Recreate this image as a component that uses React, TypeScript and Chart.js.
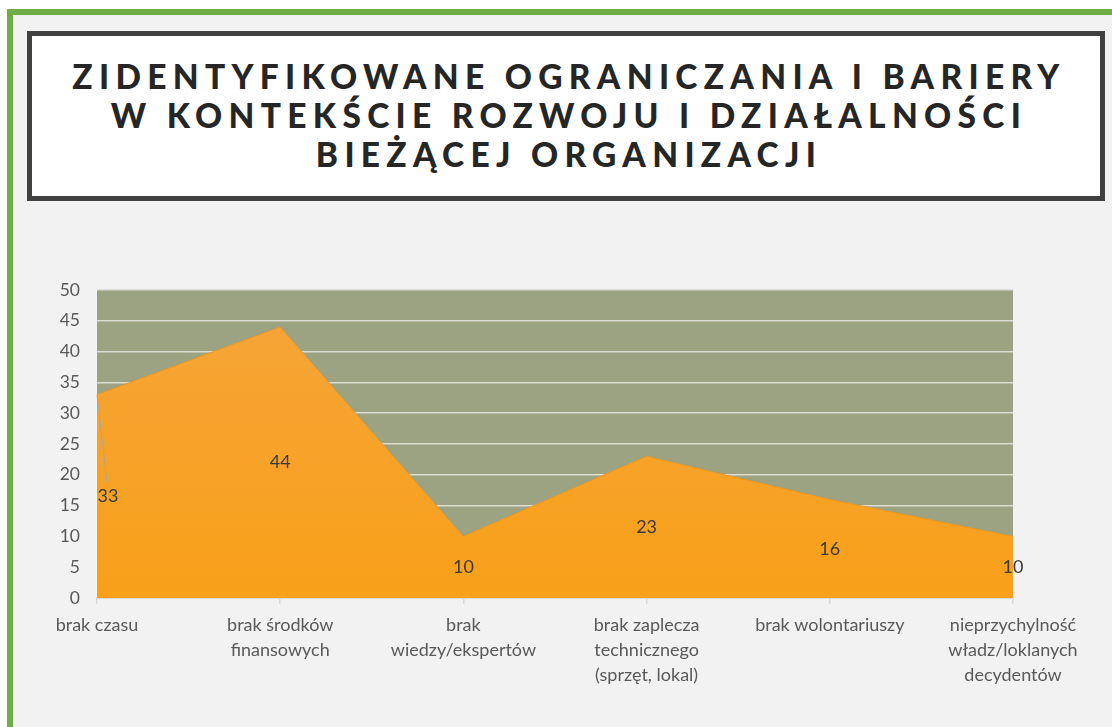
import React, { useEffect, useRef } from "react";
import { Chart, registerables } from "chart.js";

Chart.register(...registerables);

const categories: string[][] = [
  ["brak czasu"],
  ["brak środków", "finansowych"],
  ["brak", "wiedzy/ekspertów"],
  ["brak zaplecza", "technicznego", "(sprzęt, lokal)"],
  ["brak wolontariuszy"],
  ["nieprzychylność", "władz/loklanych", "decydentów"],
];
const values: number[] = [33, 44, 10, 23, 16, 10];
const titleLines: string[] = [
  "ZIDENTYFIKOWANE OGRANICZANIA I BARIERY",
  "W KONTEKŚCIE ROZWOJU I DZIAŁALNOŚCI",
  "BIEŻĄCEJ ORGANIZACJI",
];
const yMin = 0;
const yMax = 50;
const yStep = 5;

const FONT = "Lato, 'Open Sans', sans-serif";

const bgPlugin = {
  id: "plotBg",
  beforeDraw(chart: any) {
    const { ctx, chartArea } = chart;
    if (!chartArea) return;
    ctx.save();
    ctx.fillStyle = "#9ba383";
    ctx.fillRect(chartArea.left, chartArea.top, chartArea.right - chartArea.left, chartArea.bottom - chartArea.top);
    ctx.restore();
  },
};

const labelPlugin = {
  id: "centerLabels",
  afterDatasetsDraw(chart: any) {
    const { ctx } = chart;
    const meta = chart.getDatasetMeta(0);
    const yScale = chart.scales.y;
    const data = chart.data.datasets[0].data as number[];
    ctx.save();
    ctx.font = `18px ${FONT}`;
    ctx.fillStyle = "#3a3a3a";
    ctx.textAlign = "center";
    ctx.textBaseline = "middle";
    meta.data.forEach((pt: any, i: number) => {
      const v = data[i];
      let lx = pt.x;
      const ly = yScale.getPixelForValue(v / 2);
      if (i === 0) {
        lx = pt.x + 11;
        ctx.strokeStyle = "#a6a6a6";
        ctx.lineWidth = 1;
        ctx.beginPath();
        ctx.moveTo(pt.x, pt.y);
        ctx.lineTo(lx - 1, ly - 14);
        ctx.stroke();
      }
      ctx.fillText(String(v), lx, ly);
    });
    ctx.restore();
  },
};

function ChartCanvas() {
  const ref = useRef<HTMLCanvasElement | null>(null);
  useEffect(() => {
    if (!ref.current) return;
    const ctx = ref.current.getContext("2d")!;
    const grad = ctx.createLinearGradient(0, 290, 0, 598);
    grad.addColorStop(0, "#f5a53a");
    grad.addColorStop(1, "#f9a019");
    const chart = new Chart(ref.current, {
      type: "line",
      data: {
        labels: categories,
        datasets: [
          {
            data: values,
            fill: "origin",
            backgroundColor: grad,
            borderColor: "rgba(240,150,30,0.9)",
            borderWidth: 1,
            pointRadius: 0,
            tension: 0,
          },
        ],
      },
      options: {
        animation: false,
        responsive: false,
        maintainAspectRatio: false,
        layout: { padding: { left: 0, right: 99, top: 290, bottom: 0 } },
        plugins: { legend: { display: false }, tooltip: { enabled: false } },
        scales: {
          x: {
            offset: false,
            grid: { drawOnChartArea: false, color: "#d9d9d9", tickLength: 6, lineWidth: 1.5 },
            border: { color: "#d9d9d9", width: 2 },
            ticks: {
              color: "#595959",
              font: { family: FONT, size: 18, lineHeight: 1.38 },
              padding: 9,
              maxRotation: 0,
              autoSkip: false,
            },
            afterFit(scale: any) {
              scale.height = 129;
            },
          },
          y: {
            min: yMin,
            max: yMax,
            ticks: {
              stepSize: yStep,
              color: "#595959",
              font: { family: FONT, size: 17.5 },
              padding: 17,
            },
            grid: { color: "#dcdcd2", lineWidth: 1.5, drawTicks: false },
            border: { display: false },
            afterFit(scale: any) {
              scale.width = 97;
            },
          },
        },
      },
      plugins: [bgPlugin, labelPlugin],
    } as any);
    return () => chart.destroy();
  }, []);
  return (
    <canvas
      ref={ref}
      width={1112}
      height={727}
      style={{ position: "absolute", left: 0, top: 0, width: 1112, height: 727 }}
    />
  );
}

export default function App() {
  return (
    <div
      style={{
        position: "fixed",
        left: 0,
        top: 0,
        width: 1112,
        height: 727,
        background: "#ffffff",
        overflow: "hidden",
      }}
    >
      <div
        style={{
          position: "absolute",
          left: 7,
          top: 9,
          width: 1200,
          height: 800,
          background: "#f2f2f2",
          borderLeft: "6px solid #70ad47",
          borderTop: "6px solid #70ad47",
        }}
      />
      <div
        style={{
          position: "absolute",
          left: 27,
          top: 31,
          width: 1078,
          height: 170,
          boxSizing: "border-box",
          border: "5px solid #404040",
          background: "#ffffff",
          display: "flex",
          flexDirection: "column",
          alignItems: "center",
          justifyContent: "center",
          paddingBottom: 2,
        }}
      >
        {titleLines.map((t, i) => (
          <div
            key={i}
            style={{
              fontFamily: FONT,
              fontWeight: 900,
              fontSize: 33.5,
              letterSpacing: 6.3,
              lineHeight: "39px",
              color: "#262626",
              whiteSpace: "nowrap",
              marginRight: -6,
            }}
          >
            {t}
          </div>
        ))}
      </div>
      <ChartCanvas />
    </div>
  );
}
